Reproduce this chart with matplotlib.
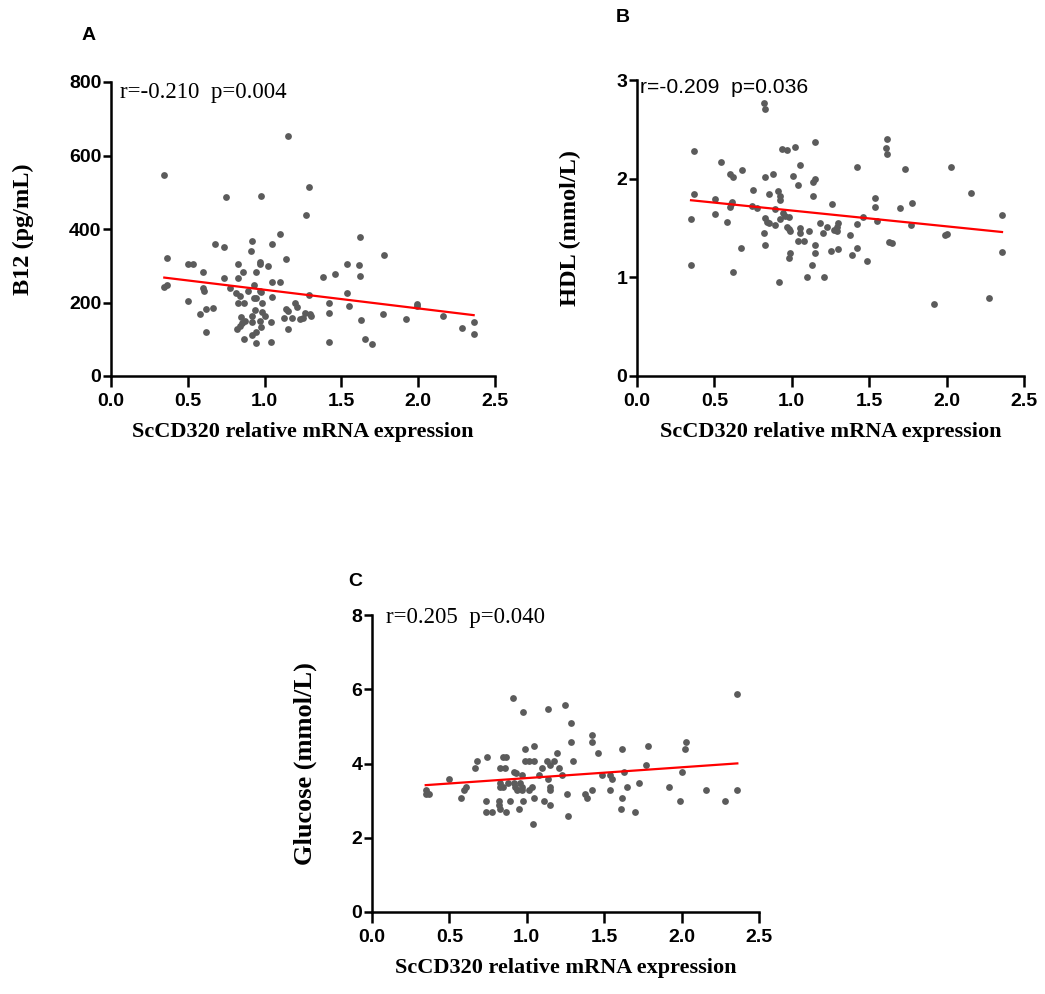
import numpy as np
import matplotlib
matplotlib.use('Agg')
import matplotlib.pyplot as plt

# ---- data ----
# panel A: B12 (pg/mL)
a_x = [0.347, 0.347, 0.367, 0.367, 0.500, 0.536, 0.500, 0.597, 0.597, 0.608,
       0.577, 0.618, 0.618, 0.666, 0.679, 0.738, 0.749, 0.738, 0.777, 0.829,
       0.829, 0.859, 0.816, 0.838, 0.829, 0.868, 0.890, 0.848, 0.870, 0.820,
       0.838, 0.853, 0.868, 0.918, 0.909, 0.946, 0.929, 0.929, 0.946, 0.938,
       0.918, 0.918, 0.946, 0.918, 0.946, 0.977, 0.968, 0.968, 1.020, 0.968,
       0.977, 0.985, 0.985, 1.003, 0.968, 0.977, 1.039, 1.039, 1.050, 1.100,
       1.050, 1.100, 1.050, 1.139, 1.150, 1.139, 1.150, 1.128, 1.178, 1.150,
       1.200, 1.211, 1.230, 1.250, 1.261, 1.295, 1.302, 1.269, 1.289, 1.289,
       1.380, 1.460, 1.419, 1.419, 1.419, 1.539, 1.539, 1.552, 1.612, 1.621,
       1.621, 1.630, 1.651, 1.701, 1.771, 1.779, 1.923, 1.990, 1.990, 2.163,
       2.285, 2.361, 2.361]
a_y = [548, 241, 248, 320, 306, 306, 203, 284, 239, 230,
       168, 183, 119, 186, 360, 352, 486, 268, 240, 306,
       268, 284, 227, 217, 198, 198, 232, 161, 151, 127,
       136, 143, 101, 368, 340, 284, 248, 211, 211, 180,
       162, 146, 121, 111, 90, 491, 310, 305, 298, 230,
       228, 198, 173, 164, 151, 134, 146, 92, 360, 387,
       255, 255, 214, 319, 652, 182, 177, 159, 157, 127,
       198, 189, 154, 157, 172, 168, 164, 439, 514, 221,
       269, 278, 198, 171, 93, 306, 227, 190, 301, 377,
       271, 153, 100, 87, 170, 329, 154, 195, 190, 163,
       131, 148, 113]

# panel B: HDL (mmol/L)
b_x = [0.349, 0.349, 0.370, 0.370, 0.502, 0.502, 0.540, 0.579, 0.601, 0.620,
       0.611, 0.607, 0.601, 0.620, 0.670, 0.680, 0.741, 0.751, 0.777, 0.818,
       0.829, 0.829, 0.881, 0.850, 0.829, 0.838, 0.850, 0.818, 0.829, 0.889,
       0.889, 0.911, 0.926, 0.921, 0.945, 0.954, 0.921, 0.980, 0.919, 0.939,
       0.971, 1.018, 1.008, 1.051, 1.040, 0.967, 0.980, 0.990, 0.986, 0.980,
       1.051, 1.051, 1.040, 1.079, 1.111, 1.100, 1.150, 1.139, 1.150, 1.139,
       1.150, 1.150, 1.128, 1.180, 1.210, 1.199, 1.229, 1.259, 1.270, 1.290,
       1.300, 1.290, 1.251, 1.300, 1.378, 1.391, 1.419, 1.419, 1.419, 1.460,
       1.488, 1.539, 1.539, 1.548, 1.617, 1.608, 1.617, 1.628, 1.649, 1.699,
       1.729, 1.778, 1.768, 1.918, 1.987, 2.000, 2.028, 2.159, 2.276, 2.358,
       2.358]
b_y = [1.588, 1.125, 2.284, 1.845, 1.797, 1.639, 2.166, 1.557, 2.044, 2.017,
       1.760, 1.747, 1.709, 1.057, 1.297, 2.084, 1.723, 1.889, 1.699, 2.767,
       2.703, 2.017, 2.044, 1.845, 1.605, 1.564, 1.547, 1.446, 1.328, 1.696,
       1.527, 1.875, 1.821, 1.787, 1.649, 1.625, 1.588, 1.608, 0.956, 2.304,
       2.291, 2.321, 2.027, 2.135, 1.936, 1.514, 1.490, 1.466, 1.243, 1.193,
       1.497, 1.446, 1.365, 1.365, 1.466, 1.007, 2.368, 1.966, 1.997, 1.824,
       1.328, 1.243, 1.125, 1.554, 1.007, 1.446, 1.514, 1.743, 1.480, 1.514,
       1.547, 1.473, 1.267, 1.287, 1.429, 1.226, 2.115, 1.537, 1.297, 1.615,
       1.166, 1.807, 1.716, 1.568, 2.405, 2.307, 2.253, 1.361, 1.348, 1.699,
       2.095, 1.757, 1.527, 0.726, 1.426, 1.436, 2.115, 1.855, 0.787, 1.628,
       1.257]

# panel C: Glucose (mmol/L)
c_x = [0.347, 0.356, 0.367, 0.347, 0.498, 0.576, 0.595, 0.606, 0.667, 0.677,
       0.736, 0.736, 0.746, 0.777, 0.818, 0.818, 0.824, 0.867, 0.889, 0.826,
       0.856, 0.846, 0.867, 0.826, 0.826, 0.848, 0.878, 0.908, 0.917, 0.928,
       0.917, 0.923, 0.938, 0.953, 0.969, 0.969, 0.969, 0.947, 0.977, 0.977,
       0.986, 0.986, 1.012, 1.048, 1.048, 1.016, 1.031, 1.048, 1.037, 1.079,
       1.098, 1.128, 1.148, 1.137, 1.137, 1.148, 1.148, 1.109, 1.148, 1.178,
       1.197, 1.208, 1.227, 1.249, 1.288, 1.288, 1.299, 1.258, 1.268, 1.378,
       1.389, 1.419, 1.419, 1.419, 1.458, 1.488, 1.538, 1.549, 1.538, 1.618,
       1.629, 1.618, 1.609, 1.648, 1.698, 1.728, 1.769, 1.780, 1.920, 1.989,
       2.000, 2.019, 2.030, 2.159, 2.280, 2.360, 2.360]
c_y = [3.28, 3.20, 3.18, 3.18, 3.59, 3.08, 3.28, 3.38, 3.88, 4.07,
       2.98, 2.69, 4.18, 2.69, 2.98, 2.89, 2.78, 2.69, 2.98, 3.88,
       3.88, 4.18, 4.18, 3.48, 3.38, 3.38, 3.48, 5.77, 3.78, 3.74,
       3.48, 3.38, 3.28, 3.48, 3.69, 3.38, 3.28, 2.78, 2.98, 5.38,
       4.39, 4.07, 4.07, 4.48, 4.07, 3.28, 3.38, 3.08, 2.38, 3.69,
       3.88, 4.07, 3.97, 5.48, 3.59, 3.38, 3.28, 2.98, 2.89, 4.07,
       4.28, 3.88, 3.69, 5.57, 5.08, 4.58, 4.07, 3.18, 2.58, 3.18,
       3.08, 4.78, 4.58, 3.28, 4.28, 3.69, 3.69, 3.58, 3.28, 4.38,
       3.78, 3.08, 2.78, 3.38, 2.69, 3.48, 3.97, 4.48, 3.38, 2.98,
       3.78, 4.38, 4.58, 3.28, 2.98, 5.88, 3.28]

xlabel = 'ScCD320 relative mRNA expression'
x_ticks = [0.0, 0.5, 1.0, 1.5, 2.0, 2.5]

W, H = 1045, 994
fig = plt.figure(figsize=(W / 100, H / 100), dpi=100)

serif = ['Liberation Serif', 'DejaVu Serif']
sans = ['Liberation Sans', 'DejaVu Sans']


def make_panel(px, x, y, yticks, ylab, ylab_size, note, note_font, note_size,
               note_pos, letter, letter_xy):
    left, top, right, bottom = px
    ax = fig.add_axes([left / W, 1 - bottom / H, (right - left) / W, (bottom - top) / H])
    ax.scatter(x, y, s=24, color='#5b5b5b', zorder=3, linewidths=0)
    # linear fit
    k, b = np.polyfit(x, y, 1)
    xs = np.array([min(x), max(x)])
    ax.plot(xs, k * xs + b, color='#ff0000', lw=1.6, zorder=4)

    ax.set_xlim(0, 2.5)
    ax.set_ylim(yticks[0], yticks[-1])
    ax.set_xticks(x_ticks)
    ax.set_xticklabels(['%.1f' % t for t in x_ticks])
    ax.set_yticks(yticks)
    for s in ['top', 'right']:
        ax.spines[s].set_visible(False)
    for s in ['left', 'bottom']:
        ax.spines[s].set_linewidth(1.8)
    ax.tick_params(axis='x', length=8, width=1.8, pad=4)
    ax.tick_params(axis='y', length=6, width=1.8, pad=1)
    for lab in ax.get_xticklabels() + ax.get_yticklabels():
        lab.set_fontfamily(sans)
        lab.set_fontweight('bold')
        lab.set_fontsize(14)

    ax.set_xlabel(xlabel, family=serif, fontweight='bold', fontsize=16, va='center')
    ax.xaxis.set_label_coords(0.5, -0.19)
    ax.set_ylabel(ylab, family=serif, fontweight='bold', fontsize=ylab_size, va='center')

    ax.text(note_pos[0], note_pos[1], note, transform=ax.transAxes,
            family=note_font, fontsize=note_size, va='center', ha='left')
    fig.text(letter_xy[0] / W, 1 - letter_xy[1] / H, letter, family=sans,
             fontweight='bold', fontsize=14, ha='center', va='center')
    return ax


axA = make_panel((111, 82, 495, 376), a_x, a_y, [0, 200, 400, 600, 800],
                 'B12 (pg/mL)', 17.5, 'r=-0.210  p=0.004', serif, 16.5,
                 (0.023, 0.963), 'A', (89, 35))
axA.yaxis.set_label_coords(-(111 - 23) / 384, 0.5)

axB = make_panel((637, 80, 1024, 376), b_x, b_y, [0, 1, 2, 3],
                 'HDL (mmol/L)', 17.5, 'r=-0.209  p=0.036', sans, 15.2,
                 (0.008, 0.976), 'B', (623, 18))
axB.yaxis.set_label_coords(-(637 - 570) / 387, 0.5)

axC = make_panel((372, 615, 759, 912), c_x, c_y, [0, 2, 4, 6, 8],
                 'Glucose (mmol/L)', 19, 'r=0.205  p=0.040', serif, 16.5,
                 (0.035, 0.99), 'C', (355, 582))
axC.yaxis.set_label_coords(-(372 - 305) / 387, 0.5)

fig.savefig('out.png', dpi=100)
